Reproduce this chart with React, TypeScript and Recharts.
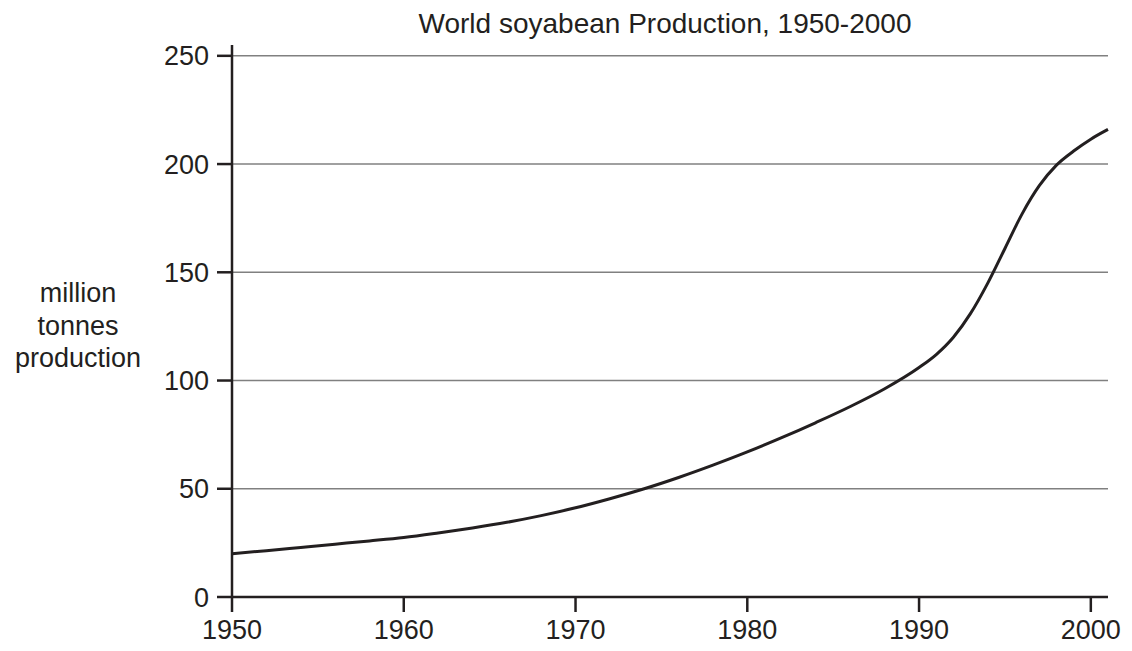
import { LineChart, Line, XAxis, YAxis, CartesianGrid } from 'recharts';

const years = [
  1950, 1952, 1954, 1956, 1958, 1960, 1962, 1964, 1966, 1968, 1970, 1972, 1974, 1976, 1978,
  1980, 1982, 1984, 1986, 1988, 1990, 1991, 1992, 1993, 1994, 1995, 1996, 1997, 1998, 1999,
  2000, 2001,
];
const production = [
  20, 21.4, 22.9, 24.4, 25.9, 27.5, 29.6, 31.9, 34.5, 37.6, 41.2, 45.4, 50, 55.2, 60.9,
  67, 73.6, 80.6, 88, 96.2, 106, 112, 120, 131, 145, 161, 177, 190, 199.5, 206,
  211.5, 216,
];
const xTicks = [1950, 1960, 1970, 1980, 1990, 2000];
const yTicks = [0, 50, 100, 150, 200, 250];
const yLabelLines = ['million', 'tonnes', 'production'];

const data = years.map((year, i) => ({ year, value: production[i] }));

const FONT = '"Liberation Sans", Arial, Helvetica, sans-serif';
const INK = '#231f20';

export default function App() {
  return (
    <div style={{ position: 'absolute', left: 0, top: 0, width: 1132, height: 651, background: '#fff' }}>
      <LineChart
        width={1132}
        height={651}
        data={data}
        margin={{ top: 45, right: 24, left: 0, bottom: 0 }}
      >
        <CartesianGrid vertical={false} syncWithTicks stroke="#808080" strokeWidth={1.5} />
        <XAxis
          dataKey="year"
          type="number"
          domain={[1950, 2001]}
          ticks={xTicks}
          height={54}
          tickSize={15}
          tickMargin={8}
          axisLine={{ stroke: INK, strokeWidth: 2.5 }}
          tickLine={{ stroke: INK, strokeWidth: 2.5 }}
          tick={{ fontSize: 27, fill: INK, fontFamily: FONT }}
        />
        <YAxis
          type="number"
          domain={[0, 255]}
          ticks={yTicks}
          width={232}
          tickSize={15}
          tickMargin={8}
          axisLine={{ stroke: INK, strokeWidth: 2.5 }}
          tickLine={{ stroke: INK, strokeWidth: 2.5 }}
          tick={{ fontSize: 27, fill: INK, fontFamily: FONT }}
        />
        <Line
          type="monotone"
          dataKey="value"
          stroke={INK}
          strokeWidth={3}
          dot={false}
          isAnimationActive={false}
        />
      </LineChart>
      <svg
        width={1132}
        height={651}
        style={{ position: 'absolute', left: 0, top: 0, pointerEvents: 'none' }}
      >
        <text x={665} y={33} textAnchor="middle" fontSize={28} fill={INK} fontFamily={FONT}>
          World soyabean Production, 1950-2000
        </text>
        {yLabelLines.map((line, i) => (
          <text
            key={line}
            x={78}
            y={302 + i * 32.5}
            textAnchor="middle"
            fontSize={27}
            fill={INK}
            fontFamily={FONT}
          >
            {line}
          </text>
        ))}
      </svg>
    </div>
  );
}
